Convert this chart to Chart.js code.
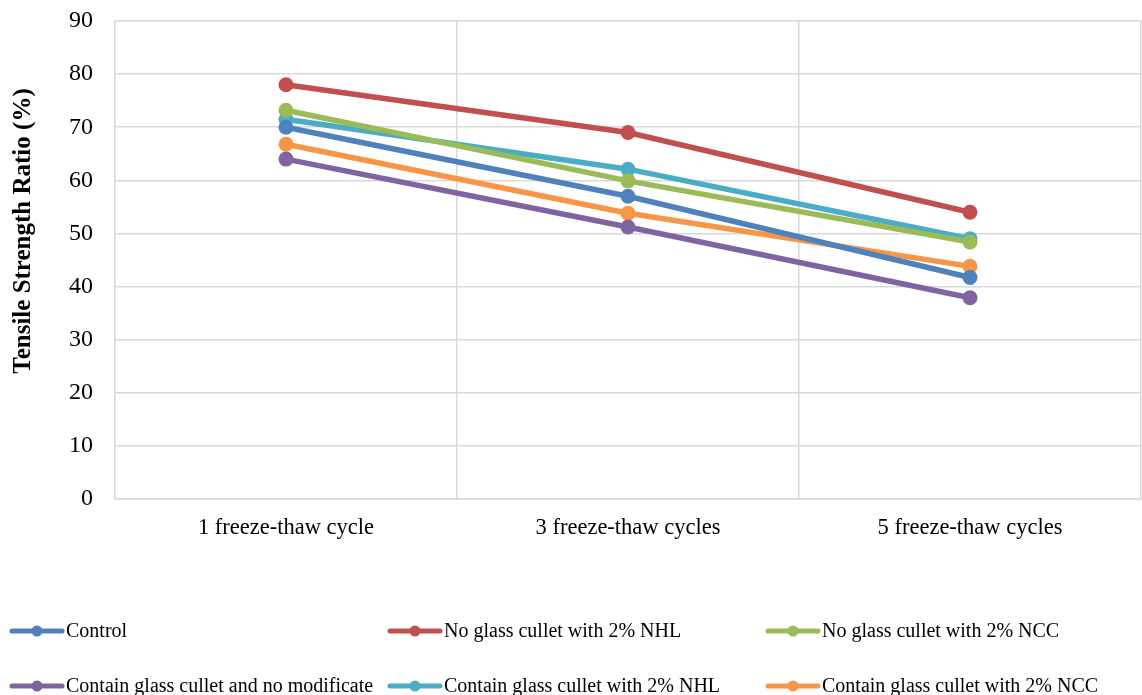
<!DOCTYPE html>
<html>
<head>
<meta charset="utf-8">
<script src="https://cdn.jsdelivr.net/npm/chart.js@4/dist/chart.umd.min.js"></script>
<style>
  html, body { margin: 0; padding: 0; background: #fff; }
  #wrap { width: 1142px; height: 695px; position: relative; }
</style>
</head>
<body>
<div id="wrap"><canvas id="c" width="1142" height="695"></canvas></div>
<script>
// Categories and series (tensile strength ratio, %)
const categories = ['1 freeze-thaw cycle', '3 freeze-thaw cycles', '5 freeze-thaw cycles'];
const seriesNames = [
  'Control',
  'No glass cullet with 2% NHL',
  'No glass cullet with 2% NCC',
  'Contain glass cullet and no modificate',
  'Contain glass cullet with 2% NHL',
  'Contain glass cullet with 2% NCC'
];
const control       = [70, 57, 41.7];
const noGlassNHL    = [78, 69, 54];
const noGlassNCC    = [73.2, 59.9, 48.4];
const glassNoMod    = [64, 51.2, 37.9];
const glassNHL      = [71.5, 62.1, 49];
const glassNCC      = [66.8, 53.8, 43.8];
const yTicks = [0, 10, 20, 30, 40, 50, 60, 70, 80, 90];
const yTitle = 'Tensile Strength Ratio (%)';

const colors = ['#4F81BD', '#C0504D', '#9BBB59', '#8064A2', '#4BACC6', '#F79646'];
const seriesValues = [control, noGlassNHL, noGlassNCC, glassNoMod, glassNHL, glassNCC];

const datasets = seriesValues.map((vals, i) => ({
  label: seriesNames[i],
  data: vals,
  borderColor: colors[i],
  backgroundColor: colors[i],
  borderWidth: 5.5,
  pointRadius: 7.5,
  pointHoverRadius: 7.5,
  pointBorderWidth: 0,
  tension: 0,
  order: i
}));

const SERIF = '"Liberation Serif", "Times New Roman", serif';

// Rotated y-axis title, placed beside the upper part of the axis
const sideTitle = {
  id: 'sideTitle',
  afterDraw(chart) {
    const ctx = chart.ctx;
    ctx.save();
    ctx.translate(24, 231);
    ctx.rotate(-Math.PI / 2);
    ctx.font = 'bold 25px ' + SERIF;
    ctx.fillStyle = '#000';
    ctx.textAlign = 'center';
    ctx.textBaseline = 'middle';
    ctx.fillText(yTitle, 0, 0);
    ctx.restore();
  }
};

// Legend laid out in a fixed 3-column grid below the plot
const gridLegend = {
  id: 'gridLegend',
  afterDraw(chart) {
    const ctx = chart.ctx;
    const colX = [10, 388, 766];
    const rowY = [631, 686];
    ctx.save();
    ctx.font = '20px ' + SERIF;
    ctx.textBaseline = 'middle';
    ctx.textAlign = 'left';
    chart.data.datasets.forEach((ds, i) => {
      const x = colX[i % 3];
      const y = rowY[Math.floor(i / 3)];
      ctx.strokeStyle = ds.borderColor;
      ctx.lineWidth = 5;
      ctx.lineCap = 'round';
      ctx.beginPath();
      ctx.moveTo(x + 2, y);
      ctx.lineTo(x + 52, y);
      ctx.stroke();
      ctx.fillStyle = ds.borderColor;
      ctx.beginPath();
      ctx.arc(x + 27, y, 5.5, 0, Math.PI * 2);
      ctx.fill();
      ctx.fillStyle = '#000';
      ctx.fillText(ds.label, x + 56, y + 1);
    });
    ctx.restore();
  }
};

new Chart(document.getElementById('c'), {
  type: 'line',
  data: { labels: categories, datasets },
  options: {
    responsive: false,
    animation: false,
    devicePixelRatio: 1,
    layout: { autoPadding: false, padding: { top: 21, right: 1, left: 0, bottom: 0 } },
    plugins: { legend: { display: false }, tooltip: { enabled: false } },
    scales: {
      x: {
        offset: true,
        grid: { offset: true, color: '#D9D9D9', lineWidth: 1.5, drawTicks: false },
        border: { color: '#D9D9D9', width: 1.5 },
        ticks: { color: '#000', font: { family: SERIF, size: 22.5 }, padding: 16, maxRotation: 0 },
        afterFit(scale) { scale.height = 196; scale.paddingLeft = 0; scale.paddingRight = 0; }
      },
      y: {
        min: 0, max: 90,
        afterBuildTicks(scale) { scale.ticks = yTicks.map(v => ({ value: v })); },
        grid: { color: '#D9D9D9', lineWidth: 1.5, drawTicks: false },
        border: { color: '#D9D9D9', width: 1.5 },
        ticks: { color: '#000', font: { family: SERIF, size: 24 }, padding: 22 },
        afterFit(scale) { scale.width = 115; scale.paddingTop = 0; scale.paddingBottom = 0; }
      }
    }
  },
  plugins: [gridLegend, sideTitle]
});
</script>
</body>
</html>
